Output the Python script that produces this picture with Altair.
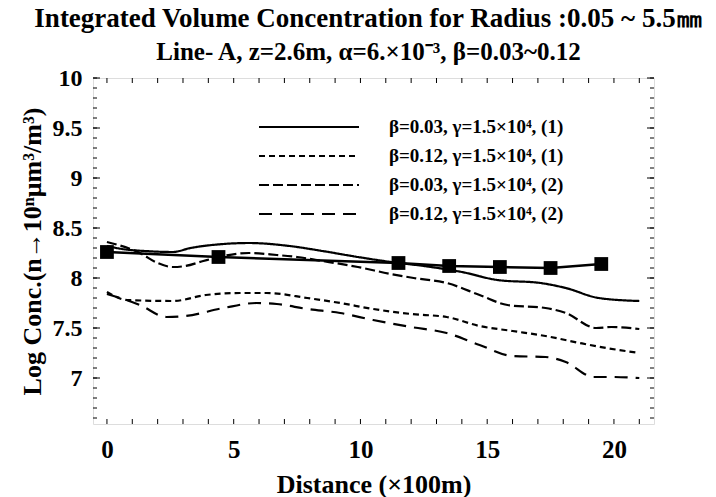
import altair as alt
import pandas as pd

# ---- data ----
labels = ["β=0.03, γ=1.5×10⁴, (1)", "β=0.12, γ=1.5×10⁴, (1)",
          "β=0.03, γ=1.5×10⁴, (2)", "β=0.12, γ=1.5×10⁴, (2)"]

d1 = [0, 0.6, 1.5, 2.6, 3.3, 4.6, 5.6, 7.2, 8.5, 9.9, 11.2, 12.5, 14.0, 15.4, 17.1, 18.1, 19.4, 21.0]
v1 = [8.32, 8.29, 8.27, 8.26, 8.30, 8.34, 8.35, 8.32, 8.27, 8.21, 8.16, 8.12, 8.06, 7.98, 7.95, 7.90, 7.80, 7.77]

d2 = [0, 0.8, 2.6, 3.9, 5.25, 6.3, 7.9, 9.2, 10.5, 12.0, 13.4, 14.7, 16.0, 17.3, 18.65, 19.7, 21.0]
v2 = [7.86, 7.78, 7.77, 7.83, 7.85, 7.85, 7.80, 7.75, 7.69, 7.64, 7.61, 7.52, 7.47, 7.42, 7.35, 7.30, 7.25]

d3 = [0, 1.3, 2.0, 2.6, 3.1, 3.8, 4.6, 5.6, 6.7, 7.5, 8.5, 9.9, 11.2, 12.1, 13.4, 14.7, 15.8, 17.3, 18.1, 19.3, 19.9, 21.0]
v3 = [8.36, 8.25, 8.15, 8.11, 8.12, 8.17, 8.22, 8.25, 8.23, 8.21, 8.17, 8.11, 8.04, 8.00, 7.95, 7.83, 7.73, 7.70, 7.65, 7.50, 7.51, 7.49]

d4 = [0, 1.3, 2.35, 3.1, 4.6, 5.9, 6.7, 7.9, 9.2, 10.5, 12.0, 13.4, 14.7, 16.0, 17.3, 18.1, 19.2, 19.9, 21.0]
v4 = [7.84, 7.73, 7.61, 7.62, 7.70, 7.75, 7.74, 7.69, 7.65, 7.58, 7.51, 7.45, 7.33, 7.22, 7.21, 7.16, 7.01, 7.01, 7.00]

sq_d = [0, 4.4, 11.5, 13.5, 15.5, 17.5, 19.5]
sq_v = [8.26, 8.21, 8.15, 8.12, 8.11, 8.10, 8.14]

x_ticks = [0, 5, 10, 15, 20]
y_ticks = [7, 7.5, 8, 8.5, 9, 9.5, 10]
x_minor = list(range(0, 22))
y_minor = [round(6.6 + 0.1 * i, 1) for i in range(35)]

# ---- build tables ----
rows = []
for lab, ds, vs in zip(labels, [d1, d2, d3, d4], [v1, v2, v3, v4]):
    for d, v in zip(ds, vs):
        rows.append({"d": d, "v": v, "series": lab})
curves = pd.DataFrame(rows)
squares = pd.DataFrame({"d": sq_d, "v": sq_v})
xt = pd.DataFrame({"t": x_minor})
yt_min = pd.DataFrame({"t": y_minor})
yt_maj = pd.DataFrame({"t": y_ticks})

W, H = 561, 346
FONT = "Liberation Serif"
xscale = alt.Scale(domain=[-0.55, 21.58], nice=False, zero=False)
yscale = alt.Scale(domain=[6.54, 10.0], nice=False, zero=False)

xaxis = alt.Axis(values=x_ticks, tickSize=0, grid=False, domain=False,
                 labelFont=FONT, labelFontWeight="bold", labelFontSize=25, labelColor="black",
                 labelPadding=13, title="Distance (×100m)", titleFont=FONT, titleFontWeight="bold",
                 titleFontSize=26, titleColor="black", titlePadding=9)
yaxis = alt.Axis(values=y_ticks, format="~g", tickSize=0, grid=False, domain=False,
                 labelFont=FONT, labelFontWeight="bold", labelFontSize=24, labelColor="black",
                 labelPadding=11, title="Log Conc.(n→10ⁿμm³/m³)", titleFont=FONT,
                 titleFontWeight="bold", titleFontSize=26, titleColor="black", titlePadding=7)

lines = alt.Chart(curves).mark_line(color="black", strokeWidth=2.2, interpolate="monotone").encode(
    x=alt.X("d:Q", scale=xscale, axis=xaxis),
    y=alt.Y("v:Q", scale=yscale, axis=yaxis),
    strokeDash=alt.StrokeDash(
        "series:N",
        scale=alt.Scale(domain=labels, range=[[1, 0], [6, 4], [10, 4], [13, 8]]),
        legend=alt.Legend(title=None, orient="none", legendX=202, legendY=35,
                          symbolType="M-4,0L4,0", symbolSize=625, symbolStrokeWidth=2.2,
                          symbolStrokeColor="black", symbolFillColor="transparent",
                          labelFont=FONT, labelFontWeight="bold", labelFontSize=19,
                          labelColor="black", labelOffset=66, rowPadding=5, padding=0,
                          labelLimit=400),
    ),
    detail="series:N",
)

sq_line = alt.Chart(squares).mark_line(color="black", strokeWidth=2.5).encode(
    x=alt.X("d:Q", scale=xscale), y=alt.Y("v:Q", scale=yscale))
sq_pts = alt.Chart(squares).mark_point(shape="square", filled=True, color="black",
                                       size=190, opacity=1).encode(
    x=alt.X("d:Q", scale=xscale), y=alt.Y("v:Q", scale=yscale))

xt_bot = alt.Chart(xt).mark_rule(color="black", strokeWidth=1).encode(
    x=alt.X("t:Q", scale=xscale), y=alt.value(H), y2=alt.value(H - 5))
xt_top = alt.Chart(xt).mark_rule(color="black", strokeWidth=1).encode(
    x=alt.X("t:Q", scale=xscale), y=alt.value(0), y2=alt.value(5))
yl_min = alt.Chart(yt_min).mark_rule(color="black", strokeWidth=1).encode(
    y=alt.Y("t:Q", scale=yscale), x=alt.value(0), x2=alt.value(4))
yl_maj = alt.Chart(yt_maj).mark_rule(color="black", strokeWidth=1).encode(
    y=alt.Y("t:Q", scale=yscale), x=alt.value(0), x2=alt.value(7))
yr_min = alt.Chart(yt_min).mark_rule(color="black", strokeWidth=1).encode(
    y=alt.Y("t:Q", scale=yscale), x=alt.value(W), x2=alt.value(W - 4))
yr_maj = alt.Chart(yt_maj).mark_rule(color="black", strokeWidth=1).encode(
    y=alt.Y("t:Q", scale=yscale), x=alt.value(W), x2=alt.value(W - 7))

NB = "\u00a0" * 8
chart = alt.layer(xt_bot, xt_top, yl_min, yl_maj, yr_min, yr_maj, lines, sq_line, sq_pts).properties(
    width=W, height=H,
    title=alt.TitleParams(
        text="Integrated Volume  Concentration  for Radius :0.05 ~ 5.5㎜",
        subtitle="Line- A, z=2.6m, α=6.×10⁻³,  β=0.03~0.12" + NB,
        font=FONT, fontWeight="bold", fontSize=27, color="black",
        subtitleFont=FONT, subtitleFontWeight="bold", subtitleFontSize=25,
        subtitleColor="black", subtitlePadding=7, anchor="middle", offset=0, dx=-5,
    ),
    autosize=alt.AutoSizeParams(type="none"),
    padding={"left": 93, "top": 78, "right": 62, "bottom": 73},
).configure_view(stroke="black", strokeWidth=1.5).configure(background="white")

chart.save("out.html", embed_options={"renderer": "svg", "actions": False})
